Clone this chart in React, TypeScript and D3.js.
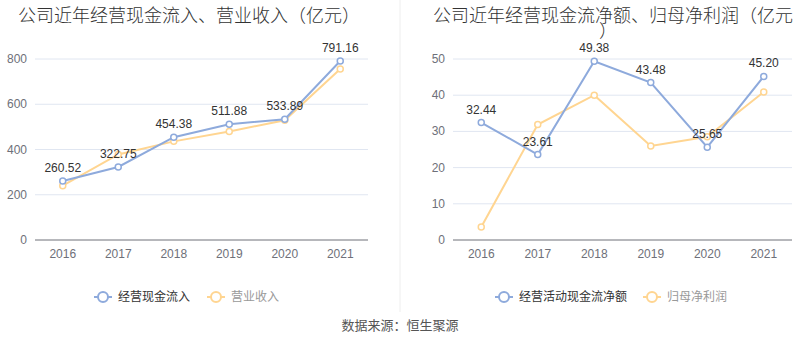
import React from "react";
import * as d3 from "d3";

const years = ["2016", "2017", "2018", "2019", "2020", "2021"];
const cashInflow = [260.52, 322.75, 454.38, 511.88, 533.89, 791.16];
const revenue = [240, 378, 436, 480, 529, 756];
const netCashFlow = [32.44, 23.61, 49.38, 43.48, 25.65, 45.2];
const netProfit = [3.6, 31.9, 40.0, 26.0, 28.5, 40.9];
const leftTicks = [0, 200, 400, 600, 800];
const rightTicks = [0, 10, 20, 30, 40, 50];

const BLUE = "#8eaadc";
const YELLOW = "#ffd591";
const FONT = "'Liberation Sans', 'Noto Sans CJK SC', sans-serif";

type PanelProps = {
  x0: number;
  x1: number;
  yMax: number;
  ticks: number[];
  a: number[];
  b: number[];
  fmt: (v: number) => string;
};

function Panel({ x0, x1, yMax, ticks, a, b, fmt }: PanelProps) {
  const x = d3.scaleBand<string>().domain(years).range([x0, x1]);
  const y = d3.scaleLinear().domain([0, yMax]).range([240, 59]);
  const cx = (d: string) => (x(d) as number) + x.bandwidth() / 2;
  const line = d3
    .line<number>()
    .x((_, i) => cx(years[i]))
    .y((v) => y(v));
  return (
    <g>
      {ticks.map((t) =>
        t === 0 ? null : (
          <line key={t} x1={x0} x2={x1} y1={y(t)} y2={y(t)} stroke="#e0e6f1" strokeWidth={1} />
        )
      )}
      {ticks.map((t) => (
        <text key={"l" + t} x={x0 - 8} y={y(t)} textAnchor="end" dominantBaseline="central" fontSize={12} fill="#6e7079">
          {t}
        </text>
      ))}
      <line x1={x0} x2={x1} y1={y(0)} y2={y(0)} stroke="#6e7079" strokeWidth={1} />
      {years.map((yr) => (
        <text key={yr} x={cx(yr)} y={y(0) + 14} textAnchor="middle" dominantBaseline="central" fontSize={12} fill="#6e7079">
          {yr}
        </text>
      ))}
      <path d={line(b) || ""} fill="none" stroke={YELLOW} strokeWidth={2} />
      {b.map((v, i) => (
        <circle key={"b" + i} cx={cx(years[i])} cy={y(v)} r={3} fill="#fff" stroke={YELLOW} strokeWidth={1.5} />
      ))}
      <path d={line(a) || ""} fill="none" stroke={BLUE} strokeWidth={2} />
      {a.map((v, i) => (
        <circle key={"a" + i} cx={cx(years[i])} cy={y(v)} r={3} fill="#fff" stroke={BLUE} strokeWidth={1.5} />
      ))}
      {a.map((v, i) => (
        <text key={"t" + i} x={cx(years[i])} y={y(v) - 9} textAnchor="middle" fontSize={12} fill="#333">
          {fmt(v)}
        </text>
      ))}
    </g>
  );
}

function LegendItem({ x, color, label, textColor }: { x: number; color: string; label: string; textColor: string }) {
  return (
    <g>
      <line x1={x} x2={x + 18} y1={297} y2={297} stroke={color} strokeWidth={2} />
      <circle cx={x + 9} cy={297} r={5} fill="#fff" stroke={color} strokeWidth={2} />
      <text x={x + 24} y={297} dominantBaseline="central" fontSize={12} fill={textColor}>
        {label}
      </text>
    </g>
  );
}

export default function App() {
  const f2 = (v: number) => v.toFixed(2);
  return (
    <svg width={800} height={358} style={{ display: "block", position: "absolute", left: 0, top: 0 }} fontFamily={FONT}>
      <rect width={800} height={358} fill="#fff" />
      <line x1={400} x2={400} y1={0} y2={312} stroke="#eeeeee" strokeWidth={1} />
      <text x={18} y={16} dominantBaseline="central" fontSize={18} fontWeight={300} fill="#333">
        公司近年经营现金流入、营业收入（亿元）
      </text>
      <text x={433} y={16} dominantBaseline="central" fontSize={18} fontWeight={300} fill="#333">
        公司近年经营现金流净额、归母净利润（亿元
      </text>
      <text x={599} y={31} dominantBaseline="central" fontSize={18} fontWeight={300} fill="#333">
        ）
      </text>
      <Panel x0={35} x1={368} yMax={800} ticks={leftTicks} a={cashInflow} b={revenue} fmt={f2} />
      <Panel x0={453} x1={792} yMax={50} ticks={rightTicks} a={netCashFlow} b={netProfit} fmt={f2} />
      <LegendItem x={94} color={BLUE} label="经营现金流入" textColor="#333" />
      <LegendItem x={207} color={YELLOW} label="营业收入" textColor="#999" />
      <LegendItem x={495} color={BLUE} label="经营活动现金流净额" textColor="#333" />
      <LegendItem x={643} color={YELLOW} label="归母净利润" textColor="#999" />
      <text x={400} y={325} textAnchor="middle" dominantBaseline="central" fontSize={13} fill="#555">
        数据来源：恒生聚源
      </text>
    </svg>
  );
}
